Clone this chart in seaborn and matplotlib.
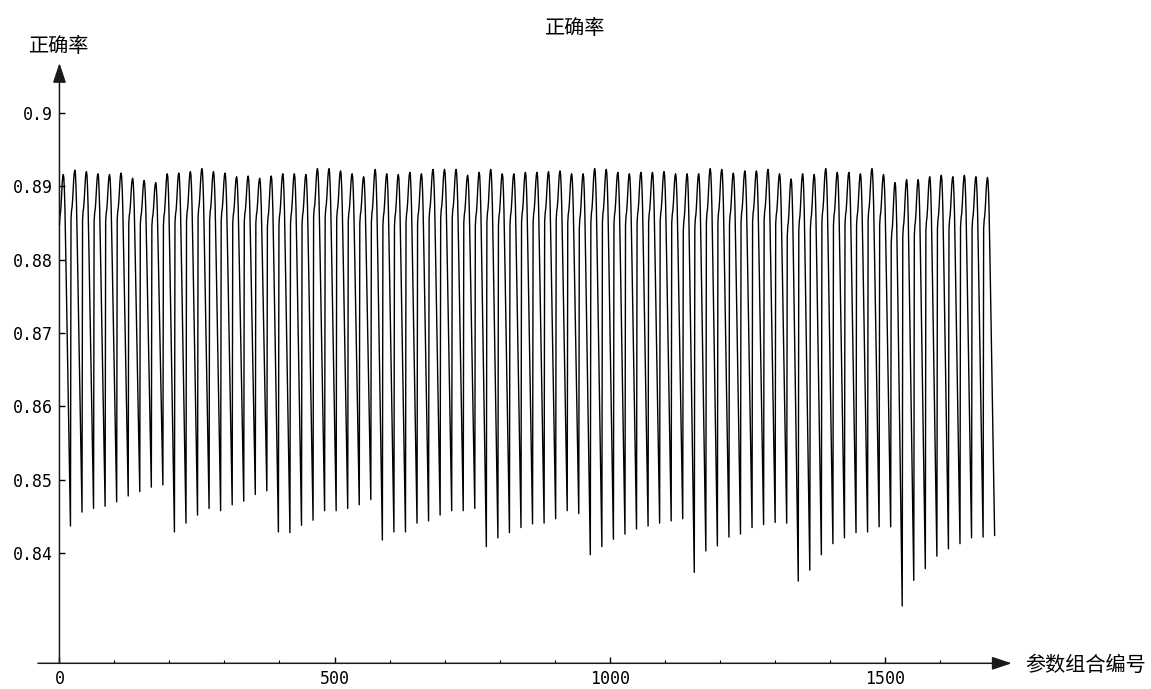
import numpy as np
import pandas as pd
import matplotlib
matplotlib.use("Agg")
import matplotlib.pyplot as plt
import seaborn as sns

# shape of one block of 21 parameter combinations (0 = block low, 1 = block peak)
block_shape = [0.857, 0.882, 0.893, 0.915, 0.945, 0.975, 0.994, 1.000, 0.990, 0.955,
               0.900, 0.820, 0.730, 0.640, 0.550, 0.460, 0.370, 0.280, 0.190, 0.100, 0.000]

# lowest accuracy reached at the end of each block
block_low = [0.8437, 0.8456, 0.8461, 0.8464, 0.8470, 0.8478, 0.8484, 0.8490, 0.8493, 0.8429,
             0.8441, 0.8452, 0.8461, 0.8458, 0.8466, 0.8471, 0.8480, 0.8485, 0.8429, 0.8428,
             0.8438, 0.8445, 0.8458, 0.8458, 0.8461, 0.8466, 0.8473, 0.8418, 0.8429, 0.8429,
             0.8441, 0.8444, 0.8452, 0.8458, 0.8458, 0.8461, 0.8409, 0.8421, 0.8428, 0.8435,
             0.8440, 0.8441, 0.8447, 0.8458, 0.8454, 0.8398, 0.8409, 0.8419, 0.8426, 0.8433,
             0.8437, 0.8441, 0.8444, 0.8447, 0.8374, 0.8403, 0.8410, 0.8422, 0.8426, 0.8435,
             0.8439, 0.8442, 0.8441, 0.8362, 0.8377, 0.8398, 0.8413, 0.8421, 0.8428, 0.8429,
             0.8436, 0.8436, 0.8328, 0.8363, 0.8379, 0.8396, 0.8406, 0.8413, 0.8421, 0.8422,
             0.8424]

# best accuracy inside each block
block_peak = [0.8916, 0.8922, 0.8920, 0.8917, 0.8916, 0.8918, 0.8911, 0.8908, 0.8905, 0.8917,
              0.8918, 0.8920, 0.8924, 0.8920, 0.8918, 0.8913, 0.8914, 0.8911, 0.8914, 0.8917,
              0.8917, 0.8916, 0.8924, 0.8924, 0.8921, 0.8917, 0.8913, 0.8923, 0.8917, 0.8916,
              0.8919, 0.8917, 0.8923, 0.8923, 0.8923, 0.8915, 0.8919, 0.8923, 0.8917, 0.8917,
              0.8919, 0.8919, 0.8920, 0.8921, 0.8917, 0.8917, 0.8924, 0.8923, 0.8919, 0.8917,
              0.8919, 0.8919, 0.8920, 0.8917, 0.8917, 0.8917, 0.8924, 0.8923, 0.8918, 0.8921,
              0.8921, 0.8923, 0.8917, 0.8910, 0.8917, 0.8916, 0.8924, 0.8919, 0.8919, 0.8917,
              0.8924, 0.8916, 0.8905, 0.8909, 0.8909, 0.8913, 0.8915, 0.8913, 0.8915, 0.8913,
              0.8912]

y_ticks = [0.84, 0.85, 0.86, 0.87, 0.88, 0.89, 0.9]
y_labels = ["0.84", "0.85", "0.86", "0.87", "0.88", "0.89", "0.9"]
x_ticks = [0, 500, 1000, 1500]
x_labels = ["0", "500", "1000", "1500"]

acc = []
for lo, hi in zip(block_low, block_peak):
    acc.extend(lo + s * (hi - lo) for s in block_shape)
df = pd.DataFrame({"idx": np.arange(len(acc)), "acc": acc})

sns.set_style("white")
plt.rcParams["font.family"] = ["Noto Sans CJK SC", "DejaVu Sans"]
plt.rcParams["text.color"] = "black"

fig = plt.figure(figsize=(11.51, 6.89), dpi=100)
ax = fig.add_axes([38 / 1151, 1 - 663.3 / 689, 973.7 / 1151, 600.3 / 689])
sns.lineplot(data=df, x="idx", y="acc", color="black", lw=1.0, estimator=None, ax=ax)

x0, x1 = -39, 1731
y0, y1 = 0.825, 0.9068
ax.set_xlim(x0, x1)
ax.set_ylim(y0, y1)
ax.set_xlabel("")
ax.set_ylabel("")

for s in ["top", "right"]:
    ax.spines[s].set_visible(False)
ax.spines["left"].set_position(("data", 0))
ax.spines["left"].set_visible(False)
ax.spines["bottom"].set_visible(False)

# axes with arrow heads
arrow = dict(arrowstyle="-|>,head_length=0.6,head_width=0.2", mutation_scale=20,
             lw=1.1, color="#1a1a1a", shrinkA=0, shrinkB=0)
ax.annotate("", xy=(x1, y0), xytext=(x0, y0), arrowprops=arrow, annotation_clip=False)
ax.annotate("", xy=(0, y1), xytext=(0, y0), arrowprops=arrow, annotation_clip=False)

ax.set_yticks(y_ticks)
ax.set_yticklabels(y_labels, family="DejaVu Sans Mono", fontsize=12)
ax.set_xticks(x_ticks)
ax.set_xticklabels(x_labels, family="DejaVu Sans Mono", fontsize=12)
ax.set_xticks(np.arange(100, 1700, 100), minor=True)
ax.tick_params(axis="y", direction="in", length=4, width=1, pad=4.5, left=True,
               colors="black")
ax.tick_params(axis="x", which="major", direction="in", length=4, width=1, pad=5,
               bottom=True, colors="black")
ax.tick_params(axis="x", which="minor", direction="in", length=2, width=0.8,
               bottom=True, colors="black")

fig.text(575 / 1151, 1 - 29 / 689, "正确率", fontsize=14.5, ha="center", va="center")
fig.text(59 / 1151, 1 - 46 / 689, "正确率", fontsize=14.5, ha="center", va="center")
fig.text(1025 / 1151, 1 - 665 / 689, "参数组合编号", fontsize=14.5, ha="left", va="center")

fig.savefig("out.png", dpi=100)
